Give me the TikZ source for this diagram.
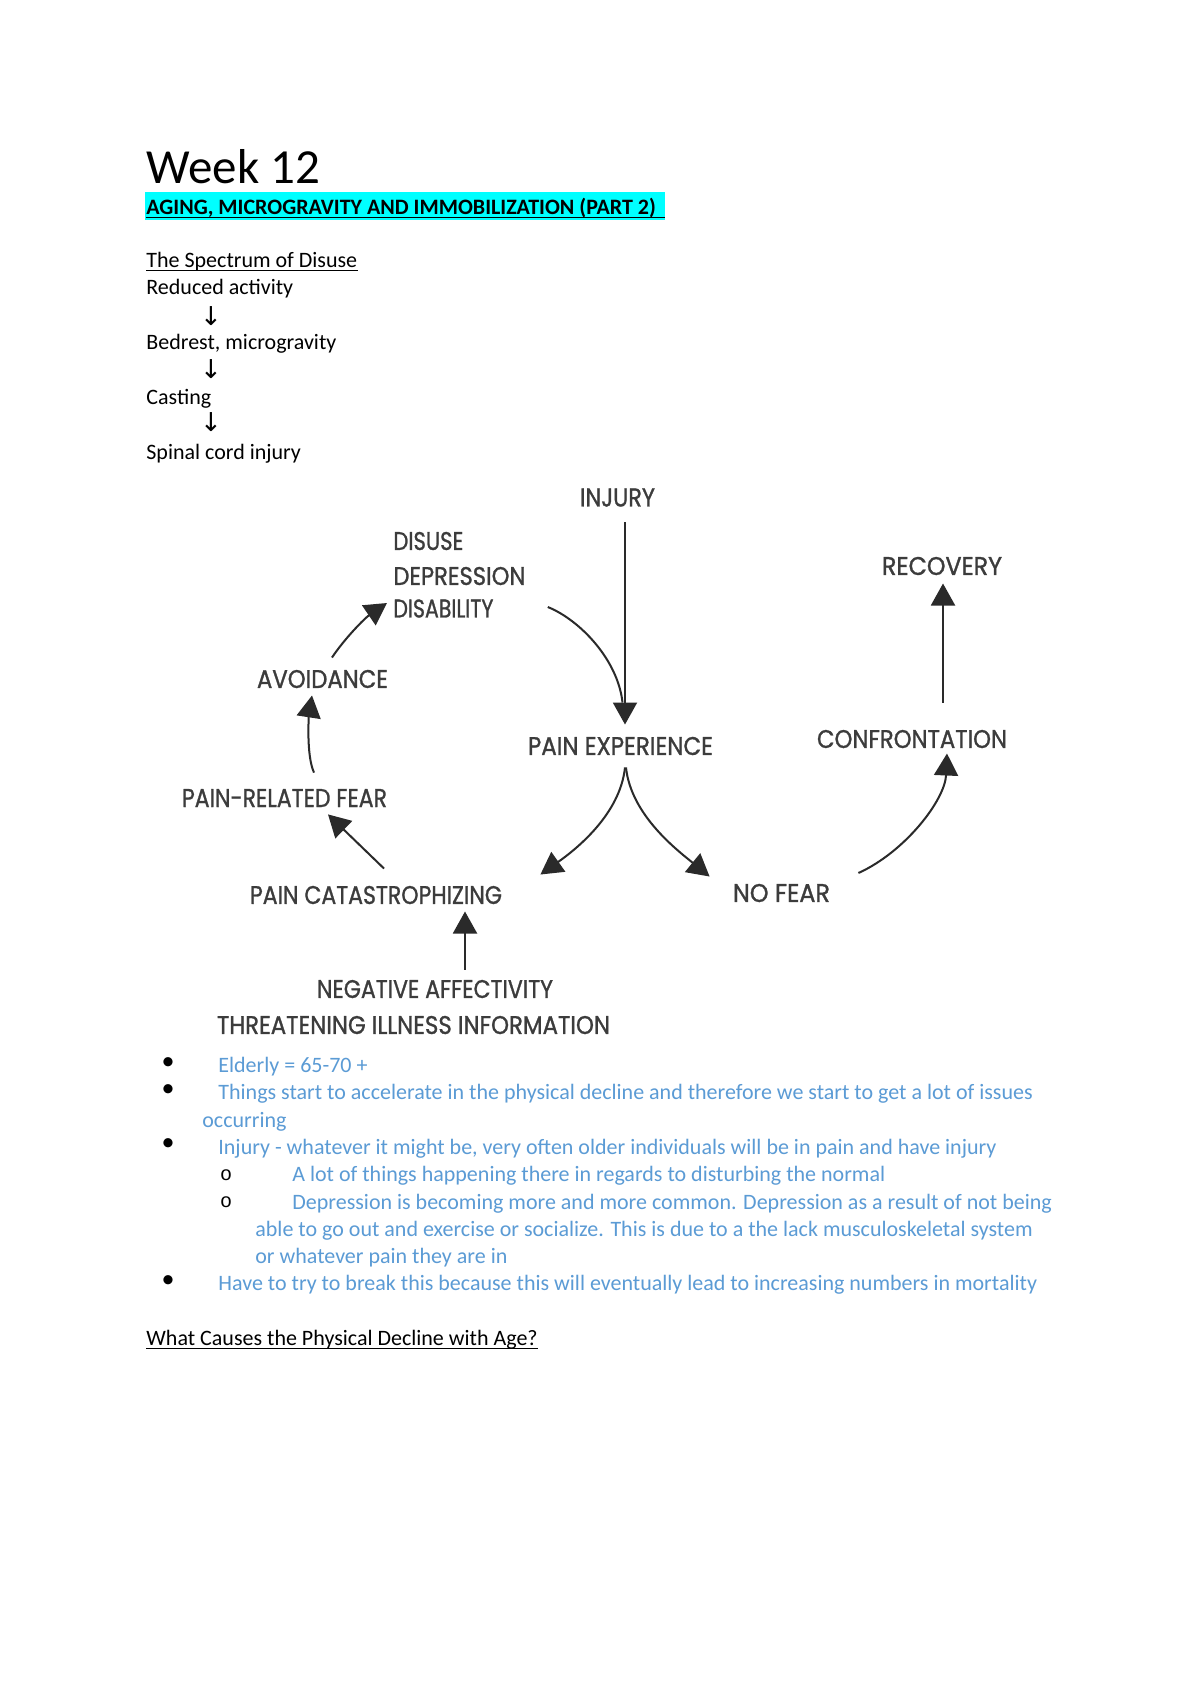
\documentclass[tikz,border=0pt]{standalone}
\usepackage{graphicx}
\usepackage{fontspec}
\setmainfont{Carlito}
\newfontfamily\dfont[FakeBold=1.2]{Poppins}
\newfontfamily\symfont{DejaVu Sans}
\newfontfamily\courfont{Liberation Mono}
\usetikzlibrary{arrows.meta,calc}
\definecolor{bluetext}{HTML}{5B9BD5}
\definecolor{diagtext}{HTML}{3C3C3C}
\definecolor{diagline}{HTML}{2A2A2A}
\definecolor{hilite}{HTML}{00FFFF}
\newcommand{\dlab}[2]{\resizebox{#1pt}{9pt}{\dfont #2}}
\begin{document}
\begin{tikzpicture}[x=0.5pt,y=-0.5pt,
  txt/.style={anchor=base west, inner sep=0pt, font=\fontsize{11}{13}\selectfont},
  btxt/.style={txt, text=bluetext},
  bul/.style={anchor=base, inner sep=0pt, font=\fontsize{13}{13}\selectfont},
  subbul/.style={anchor=base, inner sep=0pt, font=\courfont\fontsize{10}{12}\selectfont},
  glyph/.style={inner sep=0pt, font=\symfont\fontsize{13}{15}\selectfont},
  dlabel/.style={inner sep=0pt, text=diagtext},
  conn/.style={draw=diagline, line width=1pt},
  arr/.style={conn, -{Triangle[width=12pt,length=11pt]}},
  ul/.style={line width=0.5pt}
]
\useasboundingbox[fill=white] (0,0) rectangle (1200,1698);

% ---------- header ----------
\node[txt, font=\fontsize{24.5}{28}\selectfont] (week) at (146,183) {Week 12};
\fill[hilite] (145,192) rectangle (665,220);
\node[txt, font=\fontsize{11}{13}\selectfont\bfseries] (aging) at (146,214) {AGING, MICROGRAVITY AND IMMOBILIZATION (PART 2)};
\draw[ul] ($(aging.base west)+(0,3.5)$) -- (665,217.5);

\node[txt] (spec) at (146,267) {The Spectrum of Disuse};
\draw[ul] ($(spec.base west)+(0,3)$) -- ($(spec.base east)+(0,3)$);
\node[txt] (reduced) at (146,294.5) {Reduced activity};
\node[glyph] (a1) at (211,316) {↓};
\node[txt] (bedrest) at (146,349.5) {Bedrest, microgravity};
\node[glyph] (a2) at (211,369.5) {↓};
\node[txt] (casting) at (146,404.5) {Casting};
\node[glyph] (a3) at (211,422.5) {↓};
\node[txt] (spinal) at (146,459.5) {Spinal cord injury};

% ---------- diagram labels ----------
\node[dlabel] (injury) at (617.5,497.5) {\dlab{37.5}{INJURY}};
\node[dlabel, anchor=west] (disuse) at (393,541) {\dlab{35}{DISUSE}};
\node[dlabel, anchor=west] (depression) at (393,576) {\dlab{66}{DEPRESSION}};
\node[dlabel, anchor=west] (disability) at (393,608.5) {\dlab{50}{DISABILITY}};
\node[dlabel] (avoid) at (322.5,679) {\dlab{65.5}{AVOIDANCE}};
\node[dlabel] (fear) at (284.5,798) {\dlab{102.5}{PAIN-RELATED FEAR}};
\node[dlabel] (painexp) at (620.5,746) {\dlab{92.5}{PAIN EXPERIENCE}};
\node[dlabel] (recovery) at (942,566) {\dlab{60}{RECOVERY}};
\node[dlabel] (confront) at (912,739) {\dlab{95}{CONFRONTATION}};
\node[dlabel] (nofear) at (781.5,893) {\dlab{48.5}{NO FEAR}};
\node[dlabel] (catas) at (376,895) {\dlab{126}{PAIN CATASTROPHIZING}};
\node[dlabel] (negaff) at (435,989) {\dlab{118}{NEGATIVE AFFECTIVITY}};
\node[dlabel] (threat) at (413.5,1025) {\dlab{196.5}{THREATENING ILLNESS INFORMATION}};

% ---------- diagram connectors ----------
\draw[arr] ($(injury.south)+(7.5,15)$) -- ($(painexp.north)+(4.5,-12)$);
\draw[conn] ($(disability.east)+(54,-1.5)$) .. controls (580,620) and (618,660) .. ($(painexp.north)+(2,-34)$);
\draw[arr] ($(painexp.south)+(4.5,12)$) .. controls (620,815) and (575,850) .. ($(catas.north east)+(38,-11)$);
\draw[arr] ($(painexp.south)+(5.5,12)$) .. controls (631,815) and (677,850) .. ($(nofear.north west)+(-23,-7)$);
\draw[arr] ($(catas.north)+(8,-17)$) -- ($(fear.south)+(43.5,7)$);
\draw[arr] ($(fear.north)+(29.5,-16)$) .. controls (306,755) and (309,715) .. ($(avoid.south)+(-10.5,7)$);
\draw[arr] ($(avoid.north)+(9.5,-12)$) .. controls (345,638) and (365,618) .. ($(disability.west)+(-6,-5.5)$);
\draw[arr] ($(nofear.east)+(28,-20)$) .. controls (905,852) and (945,800) .. ($(confront.south)+(35,5)$);
\draw[arr] ($(confront.north)+(31,-27)$) -- ($(recovery.south)+(1,8)$);
\draw[arr] ($(negaff.north)+(30,-10)$) -- ($(catas.south)+(89,7)$);

% ---------- bullet list ----------
\node[bul] (d1) at (168,1069) {•};
\node[btxt] (l1) at (218,1072.5) {Elderly = 65-70 +};
\node[bul] (d2) at (168,1096.3) {•};
\node[btxt] (l2) at (218,1099.8) {Things start to accelerate in the physical decline and therefore we start to get a lot of issues};
\node[btxt] (l3) at (202,1127.1) {occurring};
\node[bul] (d3) at (168,1150.9) {•};
\node[btxt] (l4) at (218,1154.4) {Injury - whatever it might be, very often older individuals will be in pain and have injury};
\node[subbul] (s1) at (226,1180) {o};
\node[btxt] (l5) at (292,1181.7) {A lot of things happening there in regards to disturbing the normal};
\node[subbul] (s2) at (226,1207.3) {o};
\node[btxt] (l6) at (292,1209) {Depression is becoming more and more common. Depression as a result of not being};
\node[btxt] (l7) at (255,1236.3) {able to go out and exercise or socialize. This is due to a the lack musculoskeletal system};
\node[btxt] (l8) at (255,1263.6) {or whatever pain they are in};
\node[bul] (d4) at (168,1287.4) {•};
\node[btxt] (l9) at (218,1290.9) {Have to try to break this because this will eventually lead to increasing numbers in mortality};

\node[txt] (what) at (146,1345) {What Causes the Physical Decline with Age?};
\draw[ul] ($(what.base west)+(0,3.5)$) -- ($(what.base east)+(0,3.5)$);
\end{tikzpicture}
\end{document}
